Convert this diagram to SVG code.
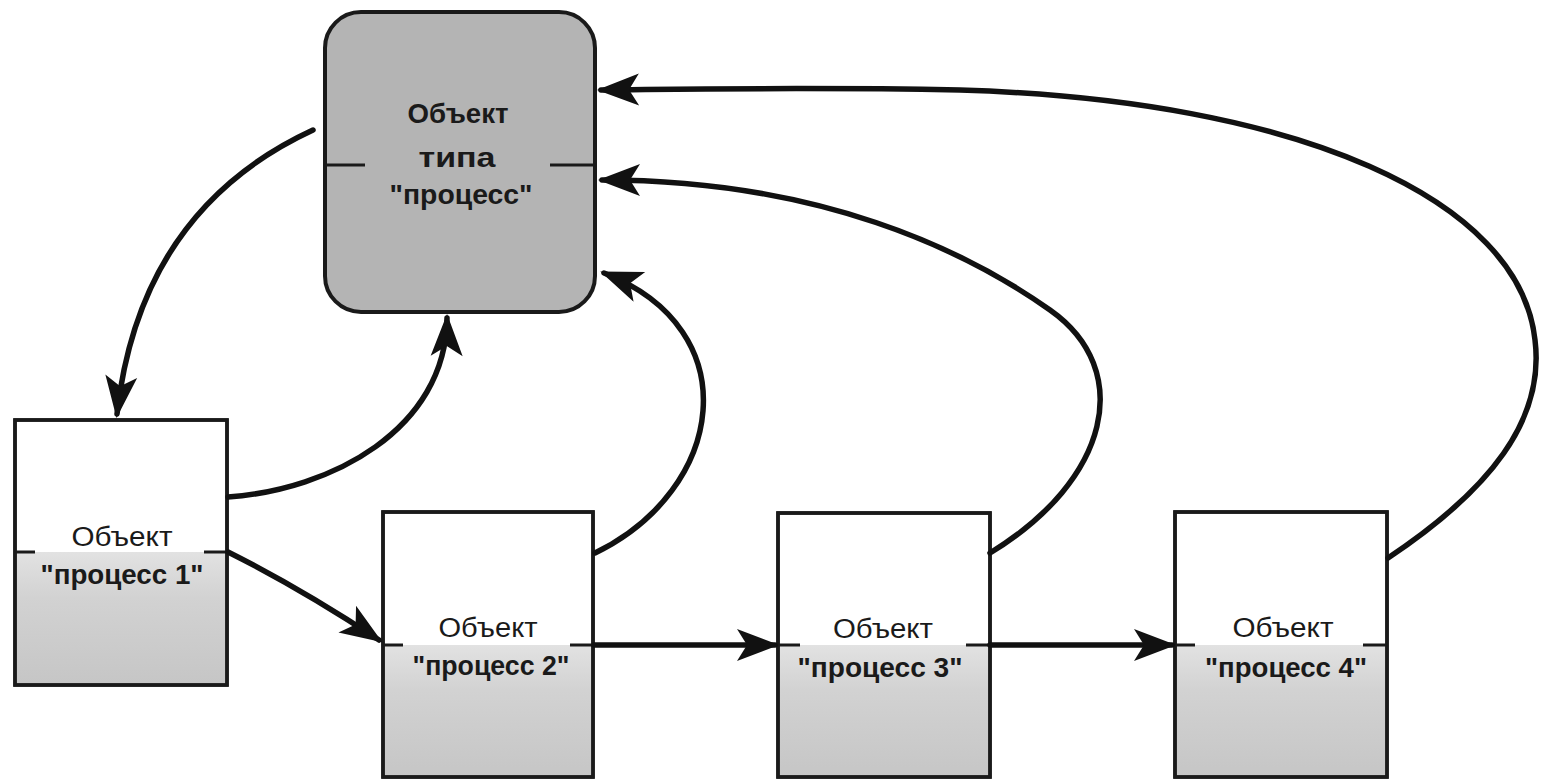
<svg xmlns="http://www.w3.org/2000/svg" width="1541" height="782" viewBox="0 0 1541 782">
<style>
.box{fill:#ffffff;stroke:#1a1a1a;stroke-width:3.5}
.shade{fill:url(#g)}
.tick{stroke:#1a1a1a;stroke-width:3}
.conn{fill:none;stroke:#111;stroke-width:5.5;stroke-linecap:round}
.t{font-family:"Liberation Sans",Arial,sans-serif;font-size:27px;fill:#1a1a1a;text-anchor:middle}
.b{font-weight:bold}
</style>
<defs>
<linearGradient id="g" x1="0" y1="0" x2="0" y2="1">
<stop offset="0" stop-color="#e2e2e2"/>
<stop offset="0.35" stop-color="#d2d2d2"/>
<stop offset="1" stop-color="#c6c6c6"/>
</linearGradient>
<marker id="ah" markerUnits="userSpaceOnUse" viewBox="-44 -22 50 44" markerWidth="50" markerHeight="44" refX="0" refY="0" orient="auto">
<path d="M4,0 L-38,-16 L-28,0 L-38,16 Z" fill="#111"/>
</marker>
</defs>

<g id="node-type">
<rect x="325" y="12" width="270" height="300" rx="36" ry="36" fill="#b4b4b4" stroke="#1a1a1a" stroke-width="4"/>
<line class="tick" x1="325" y1="165" x2="365" y2="165"/>
<line class="tick" x1="550" y1="165" x2="595" y2="165"/>
<text class="t b" x="458" y="123" textLength="101" lengthAdjust="spacingAndGlyphs">Объект</text>
<text class="t b" x="457" y="167" textLength="77" lengthAdjust="spacingAndGlyphs">типа</text>
<text class="t b" x="461" y="204" textLength="143" lengthAdjust="spacingAndGlyphs">"процесс"</text>
</g>

<g id="node-p1">
<rect class="box" x="15" y="420" width="212" height="265"/>
<rect class="shade" x="17" y="552" width="208" height="131"/>
<rect x="15" y="420" width="212" height="265" fill="none" stroke="#1a1a1a" stroke-width="3.5"/>
<line class="tick" x1="15" y1="552" x2="35" y2="552"/>
<line class="tick" x1="204" y1="552" x2="227" y2="552"/>
<text class="t" x="122" y="546" textLength="101" lengthAdjust="spacingAndGlyphs">Объект</text>
<text class="t b" x="122" y="584" textLength="163" lengthAdjust="spacingAndGlyphs">"процесс 1"</text>
</g>

<g id="node-p2">
<rect class="box" x="383" y="512" width="210" height="265"/>
<rect class="shade" x="385" y="645" width="206" height="130"/>
<rect x="383" y="512" width="210" height="265" fill="none" stroke="#1a1a1a" stroke-width="3.5"/>
<line class="tick" x1="383" y1="645" x2="403" y2="645"/>
<line class="tick" x1="570" y1="645" x2="593" y2="645"/>
<text class="t" x="488" y="637" textLength="99" lengthAdjust="spacingAndGlyphs">Объект</text>
<text class="t b" x="491" y="675" textLength="157" lengthAdjust="spacingAndGlyphs">"процесс 2"</text>
</g>

<g id="node-p3">
<rect class="box" x="778" y="513" width="212" height="264"/>
<rect class="shade" x="780" y="645" width="208" height="130"/>
<rect x="778" y="513" width="212" height="264" fill="none" stroke="#1a1a1a" stroke-width="3.5"/>
<line class="tick" x1="778" y1="645" x2="800" y2="645"/>
<line class="tick" x1="966" y1="645" x2="990" y2="645"/>
<text class="t" x="883" y="638" textLength="100" lengthAdjust="spacingAndGlyphs">Объект</text>
<text class="t b" x="880" y="677" textLength="165" lengthAdjust="spacingAndGlyphs">"процесс 3"</text>
</g>

<g id="node-p4">
<rect class="box" x="1175" y="512" width="212" height="265"/>
<rect class="shade" x="1177" y="645" width="208" height="130"/>
<rect x="1175" y="512" width="212" height="265" fill="none" stroke="#1a1a1a" stroke-width="3.5"/>
<line class="tick" x1="1175" y1="645" x2="1195" y2="645"/>
<line class="tick" x1="1363" y1="645" x2="1387" y2="645"/>
<text class="t" x="1283" y="637" textLength="101" lengthAdjust="spacingAndGlyphs">Объект</text>
<text class="t b" x="1286" y="677" textLength="162" lengthAdjust="spacingAndGlyphs">"процесс 4"</text>
</g>

<g id="connectors">
<path class="conn" marker-end="url(#ah)" d="M313,130 Q140,210 117,414"/>
<path class="conn" marker-end="url(#ah)" d="M228,497 C330,490 446,430 447,318"/>
<path class="conn" marker-end="url(#ah)" d="M228,552 Q300,588 379,640"/>
<path class="conn" marker-end="url(#ah)" d="M594,645 L775,645"/>
<path class="conn" marker-end="url(#ah)" d="M990,645 L1172,645"/>
<path class="conn" marker-end="url(#ah)" d="M595,553 C725,490 750,330 604,273"/>
<path class="conn" marker-end="url(#ah)" d="M990,553 C1110,480 1135,370 1050,310 C965,250 820,180 602,180"/>
<path class="conn" marker-end="url(#ah)" d="M1388,558 C1490,490 1545,420 1535,340 C1520,200 1300,100 960,90 C800,87 700,89 601,90"/>
</g>
</svg>
